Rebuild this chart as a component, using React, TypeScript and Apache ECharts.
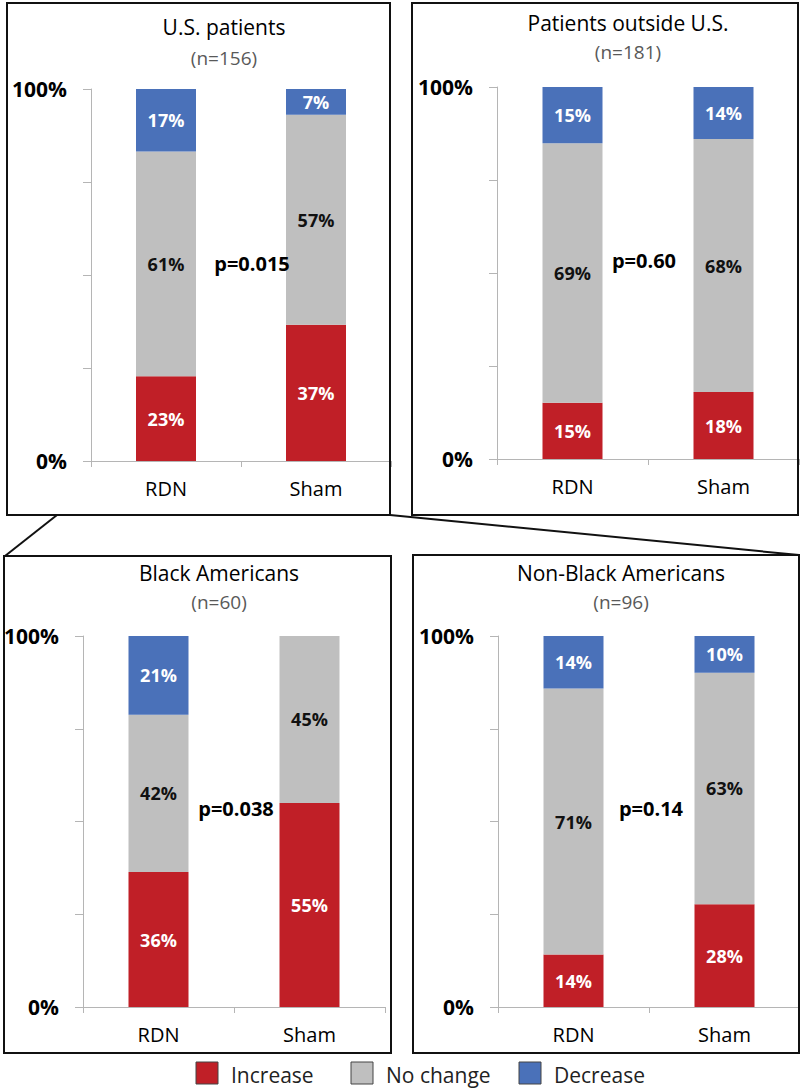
import React, { useEffect, useRef } from "react";
import * as echarts from "echarts";

const categories = ["RDN", "Sham"];
const panelTitles = ["U.S. patients", "Patients outside U.S.", "Black Americans", "Non-Black Americans"];
const panelN = ["(n=156)", "(n=181)", "(n=60)", "(n=96)"];
const pValues = ["p=0.015", "p=0.60", "p=0.038", "p=0.14"];
const increase = [[23, 37], [15, 18], [36, 55], [14, 28]];
const noChange = [[61, 57], [69, 68], [42, 45], [71, 63]];
const decrease = [[17, 7], [15, 14], [21, 0], [14, 10]];
const seriesNames = ["Increase", "No change", "Decrease"];
const yTickLabels: Record<number, string> = { 0: "0%", 100: "100%" };

const COLORS = ["#C01F27", "#BFBFBF", "#4A71B9"];
const LABEL_COLORS = ["#FFFFFF", "#111111", "#FFFFFF"];
const FONT = "'Open Sans', 'Noto Sans', sans-serif";

const grids = [
  { left: 91, top: 89, width: 300, height: 372 },
  { left: 497, top: 87, width: 302, height: 372 },
  { left: 83, top: 636, width: 302, height: 371 },
  { left: 498, top: 636, width: 302, height: 371 },
];
const boxes = [
  { x: 7, y: 3, w: 383, h: 512 },
  { x: 412, y: 3, w: 386, h: 512 },
  { x: 4, y: 556, w: 387, h: 497 },
  { x: 413, y: 555, w: 386, h: 498 },
];
const titlePos = [
  { x: 224, y: 27, ny: 58 },
  { x: 628, y: 23, ny: 52 },
  { x: 219, y: 573, ny: 602 },
  { x: 621, y: 573, ny: 602 },
];
const pPos = [
  { x: 252, y: 263 },
  { x: 644, y: 260 },
  { x: 236, y: 808 },
  { x: 651, y: 808 },
];

function txt(text: string, x: number, y: number, size: number, weight: string, fill: string, align = "center") {
  return {
    type: "text",
    x,
    y,
    z: 100,
    silent: true,
    style: {
      text,
      fill,
      font: `${weight} ${size}px ${FONT}`,
      align,
      verticalAlign: "middle",
      textAlign: align,
      textVerticalAlign: "middle",
    },
  };
}

export default function App() {
  const ref = useRef<HTMLDivElement>(null);
  useEffect(() => {
    if (!ref.current) return;
    const chart = echarts.init(ref.current, undefined, { renderer: "svg" });
    const groups = [increase, noChange, decrease];
    const series: any[] = [];
    for (let p = 0; p < 4; p++) {
      const totals = categories.map((_, c) => increase[p][c] + noChange[p][c] + decrease[p][c]);
      groups.forEach((arr, s) => {
        series.push({
          type: "bar",
          name: seriesNames[s],
          stack: "s" + p,
          xAxisIndex: p,
          yAxisIndex: p,
          barWidth: 60,
          z: 2,
          itemStyle: { color: COLORS[s] },
          label: {
            show: true,
            position: "inside",
            color: LABEL_COLORS[s],
            fontFamily: FONT,
            fontWeight: "bold",
            fontSize: 18,
            formatter: (prm: any) => (prm.data.raw ? prm.data.raw + "%" : ""),
          },
          data: categories.map((_, c) => ({ value: (arr[p][c] / totals[c]) * 100, raw: arr[p][c] })),
        });
      });
    }
    const graphic: any[] = [];
    boxes.forEach((b) => {
      graphic.push({
        type: "rect",
        shape: { x: b.x, y: b.y, width: b.w, height: b.h },
        style: { fill: "none", stroke: "#111", lineWidth: 2 },
        silent: true,
        z: 100,
      });
    });
    graphic.push({ type: "line", shape: { x1: 57, y1: 515, x2: 5, y2: 556 }, style: { stroke: "#111", lineWidth: 2 }, z: 100 });
    graphic.push({ type: "line", shape: { x1: 390, y1: 515, x2: 799, y2: 555 }, style: { stroke: "#111", lineWidth: 2 }, z: 100 });
    for (let p = 0; p < 4; p++) {
      graphic.push(txt(panelTitles[p], titlePos[p].x, titlePos[p].y, 21, "normal", "#000"));
      graphic.push(txt(panelN[p], titlePos[p].x, titlePos[p].ny, 19, "normal", "#595959"));
      graphic.push(txt(pValues[p], pPos[p].x, pPos[p].y, 20, "bold", "#000"));
    }
    const legendX = [196, 351, 519];
    seriesNames.forEach((n, i) => {
      graphic.push({
        type: "rect",
        z: 100,
        shape: { x: legendX[i], y: 1062, width: 22, height: 22 },
        style: { fill: COLORS[i], stroke: "#444", lineWidth: 1 },
      });
      graphic.push(txt(n, legendX[i] + 35, 1075, 21, "normal", "#222", "left"));
    });

    chart.setOption({
      animation: false,
      grid: grids.map((g) => ({ ...g, containLabel: false })),
      xAxis: grids.map((_, i) => ({
        type: "category",
        gridIndex: i,
        data: categories,
        axisLine: { show: true, lineStyle: { color: "#B5B5B5", width: 1 } },
        axisTick: { show: true, length: 6, lineStyle: { color: "#B5B5B5" } },
        axisLabel: { color: "#000", fontFamily: FONT, fontSize: 20, margin: 17 },
      })),
      yAxis: grids.map((_, i) => ({
        type: "value",
        gridIndex: i,
        min: 0,
        max: 100,
        interval: 25,
        splitLine: { show: false },
        axisLine: { show: true, lineStyle: { color: "#B5B5B5", width: 1 } },
        axisTick: { show: true, length: 8, lineStyle: { color: "#B5B5B5" } },
        axisLabel: {
          color: "#000",
          fontFamily: FONT,
          fontWeight: "bold",
          fontSize: 21,
          margin: 24,
          formatter: (v: number) => yTickLabels[v] ?? "",
        },
      })),
      series,
      graphic,
    });
    return () => chart.dispose();
  }, []);
  return <div ref={ref} style={{ position: "absolute", left: 0, top: 0, width: 800, height: 1092, background: "#fff" }} />;
}
